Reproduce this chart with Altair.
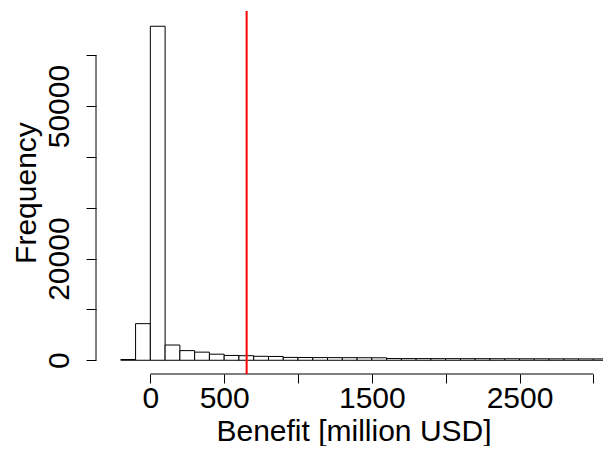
import altair as alt
import pandas as pd

# ---- data (bins of 100 million USD) ----
bin_starts = [-200, -100, 0, 100, 200, 300, 400, 500, 600, 700, 800,
              900, 1000, 1100, 1200, 1300, 1400, 1500,
              1600, 1700, 1800, 1900, 2000, 2100, 2200, 2300, 2400,
              2500, 2600, 2700, 2800, 2900, 3000, 3100]
counts = [150, 7200, 65700, 3000, 1900, 1600, 1200, 950, 900, 780, 750,
          560, 540, 530, 520, 510, 500, 490,
          340, 330, 330, 320, 320, 310, 310, 300, 300,
          290, 290, 280, 280, 270, 270, 260]
bin_width = 100
x_ticks = [0, 500, 1000, 1500, 2000, 2500, 3000]
x_labels_shown = [0, 500, 1500, 2500]
y_ticks = [0, 10000, 20000, 30000, 40000, 50000, 60000]
y_labels_shown = [0, 20000, 50000]
threshold = [652]

W, H = 507, 363
X_DOMAIN = [-368, -368 + W / 0.14767]
Y_DOMAIN = [-2700, 68700]
FONT = "Liberation Sans"
FS = 30

df = pd.DataFrame({
    "start": bin_starts,
    "end": [s + bin_width for s in bin_starts],
    "count": counts,
})


def label_expr(shown):
    return ("indexof([" + ",".join(str(v) for v in shown) +
            "], datum.value) >= 0 ? datum.label : ''")


xscale = alt.Scale(domain=X_DOMAIN, nice=False, zero=False)
yscale = alt.Scale(domain=Y_DOMAIN, nice=False, zero=False)

x_axis = alt.Axis(
    values=x_ticks, format="d", labelExpr=label_expr(x_labels_shown),
    title="Benefit [million USD]", domain=False, grid=False,
    tickSize=9, tickColor="black", tickWidth=1,
    labelFontSize=FS, labelBaseline="alphabetic", labelPadding=24,
    labelFlush=False, labelOverlap=False, labelAlign="center",
    titleFontSize=FS, titleFontWeight="normal", titleBaseline="alphabetic",
    titleY=66, titleX=(611 - 96) / 2, titleAlign="center")

y_axis = alt.Axis(
    values=y_ticks, format="d", labelExpr=label_expr(y_labels_shown),
    title="Frequency", domain=False, grid=False,
    tickSize=10, tickColor="black", tickWidth=1,
    labelFontSize=FS, labelAngle=270, labelAlign="center",
    labelBaseline="alphabetic", labelPadding=17.5,
    labelFlush=False, labelOverlap=False,
    titleFontSize=FS, titleFontWeight="normal", titleAngle=270,
    titleAlign="center", titleBaseline="alphabetic",
    titleX=-61, titleY=H / 2)

bars = alt.Chart(df).mark_bar(
    fill="white", stroke="black", strokeWidth=1, clip=True
).encode(
    x=alt.X("start:Q", scale=xscale, axis=x_axis),
    x2="end:Q",
    y=alt.Y("count:Q", scale=yscale, axis=y_axis),
    y2=alt.datum(0),
)

xaxis_line = alt.Chart(pd.DataFrame({"start": [min(x_ticks)], "end": [max(x_ticks)]})).mark_rule(
    color="black", strokeWidth=1
).encode(
    x=alt.X("start:Q", scale=xscale, axis=x_axis), x2="end:Q", y=alt.value(H)
)

yaxis_line = alt.Chart(pd.DataFrame({"count": [min(y_ticks)], "c2": [max(y_ticks)]})).mark_rule(
    color="black", strokeWidth=1
).encode(
    y=alt.Y("count:Q", scale=yscale, axis=y_axis), y2="c2:Q", x=alt.value(0)
)

vline = alt.Chart(pd.DataFrame({"start": threshold})).mark_rule(
    color="#ff0000", strokeWidth=2
).encode(
    x=alt.X("start:Q", scale=xscale, axis=x_axis), y=alt.value(0), y2=alt.value(H)
)

chart = alt.layer(bars, xaxis_line, yaxis_line, vline).properties(
    width=W, height=H,
    padding={"left": 88, "top": 3, "right": 0, "bottom": 72},
    autosize=alt.AutoSizeParams(type="none"),
    background="white",
).configure_view(stroke=None).configure_axis(
    labelFont=FONT, titleFont=FONT, labelColor="black", titleColor="black"
)

chart.save("out.html", embed_options={"renderer": "svg", "actions": False})
